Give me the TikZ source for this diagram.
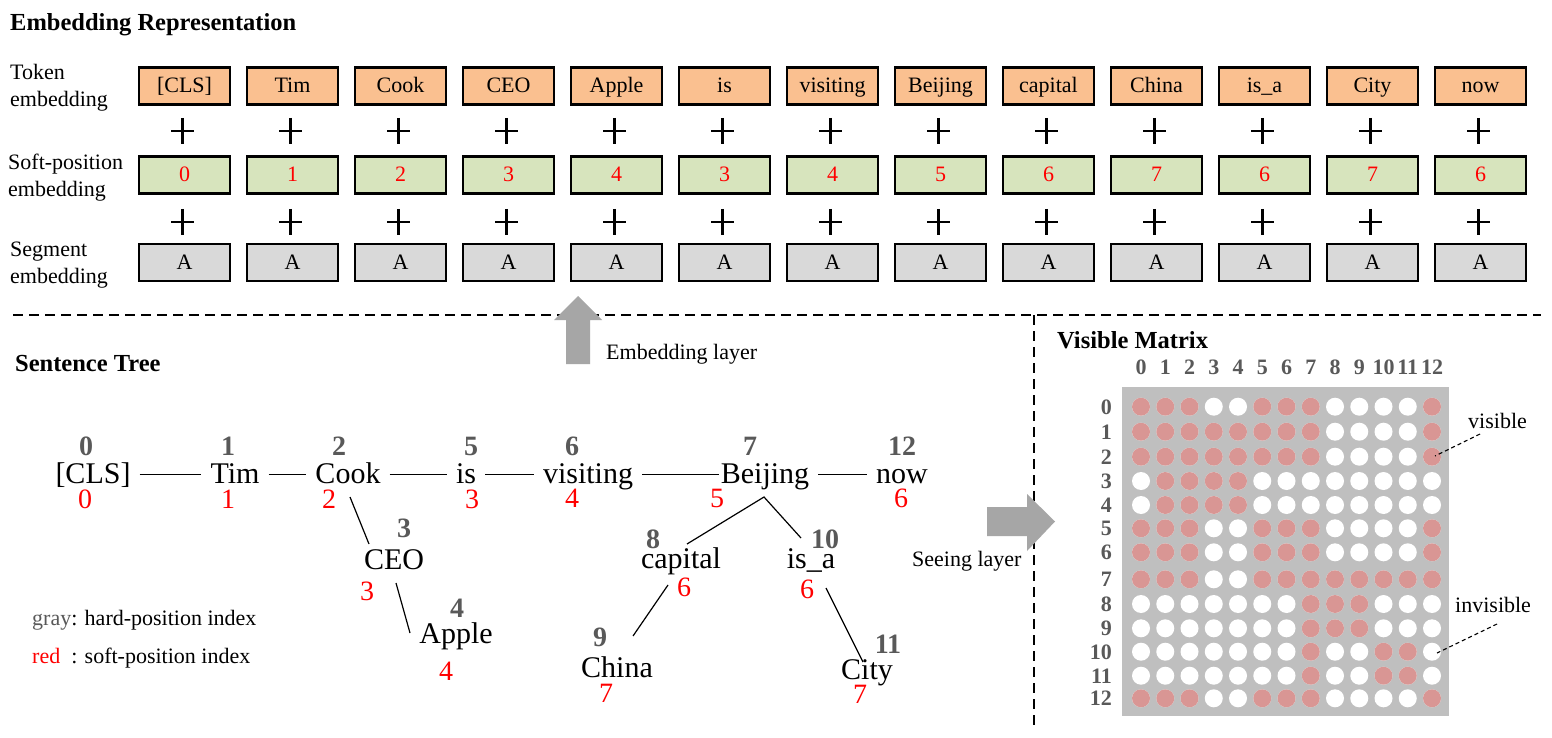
\documentclass[tikz,border=0pt]{standalone}
\usepackage{fontspec}
\setmainfont{Liberation Serif}
\usetikzlibrary{calc}
\definecolor{tokfill}{HTML}{FAC090}
\definecolor{posfill}{HTML}{D7E4BD}
\definecolor{segfill}{HTML}{D9D9D9}
\definecolor{numgray}{HTML}{595959}
\definecolor{arrgray}{HTML}{A6A6A6}
\definecolor{matgray}{HTML}{BFBFBF}
\definecolor{pinkdot}{HTML}{D99694}
\newcommand{\fszS}{\fontsize{22}{27}\selectfont}
\newcommand{\fszT}{\fontsize{24.5}{29}\selectfont\bfseries}
\newcommand{\fszW}{\fontsize{30}{36}\selectfont}
\newcommand{\fszN}{\fontsize{28}{34}\selectfont}
\newcommand{\fszM}{\fontsize{22}{27}\selectfont\bfseries}
\newcommand{\pinkrow}[2]{\foreach \c in {#2} \fill[pinkdot] ({1141+24.25*\c},#1) circle (9pt);}
\tikzset{
 ebox/.style={draw, line width=2.2pt, minimum width=91pt, minimum height=37pt, inner sep=0pt, font=\fszS, text height=18pt, text depth=4pt},
 tokbox/.style={ebox, fill=tokfill},
 posbox/.style={ebox, fill=posfill, text=red},
 segbox/.style={ebox, fill=segfill},
 plusline/.style={line width=2.8pt},
 word/.style={font=\fszW, anchor=base, inner xsep=9pt, inner ysep=0pt, text height=22pt, text depth=5pt},
 hnum/.style={font=\fszN\bfseries, text=numgray, anchor=base, inner sep=0pt},
 snum/.style={font=\fszN, text=red, anchor=base, inner sep=0pt},
 edge/.style={line width=1.2pt},
 title/.style={font=\fszT, anchor=base west, inner sep=0pt},
 lbl/.style={font=\fszS, inner sep=0pt},
 sep/.style={line width=2pt, dash pattern=on 10pt off 6pt},
 mlab/.style={font=\fszM, text=numgray, inner sep=0pt},
 leader/.style={line width=1.1pt, dash pattern=on 4pt off 3pt},
}
\begin{document}
\begin{tikzpicture}[x=1pt,y=-1pt]
\useasboundingbox (0,0) rectangle (1552,738);
\fill[white] (0,0) rectangle (1552,738);

% ---------- Embedding representation ----------
\node[title] (ttl1) at (10,31) {Embedding Representation};
\node[lbl, align=left, anchor=west] (lab1) at (10,88) {Token\\embedding};
\node[lbl, align=left, anchor=west] (lab2) at (8,178) {Soft-position\\embedding};
\node[lbl, align=left, anchor=west] (lab3) at (10,265) {Segment\\embedding};

\foreach \i/\tk/\sp in {0/{[CLS]}/0, 1/Tim/1, 2/Cook/2, 3/CEO/3, 4/Apple/4, 5/is/3, 6/visiting/4, 7/Beijing/5, 8/capital/6, 9/China/7, 10/is\_a/6, 11/City/7, 12/now/6} {
  \node[tokbox] (tok\i) at ({184.5+108*\i},86) {\tk};
  \node[posbox] (pos\i) at ({184.5+108*\i},175) {\sp};
  \node[segbox] (seg\i) at ({184.5+108*\i},262.5) {A};
  \draw[plusline] ({184.5+108*\i-13.5},131) -- ++(23,0);
  \draw[plusline] ({184.5+108*\i-2},118) -- ++(0,26);
  \draw[plusline] ({184.5+108*\i-13.5},222) -- ++(23,0);
  \draw[plusline] ({184.5+108*\i-2},209) -- ++(0,26);
}

% ---------- separators ----------
\draw[sep] (13,315) -- (1541,315);
\draw[sep] (1034,315) -- (1034,726);

% ---------- embedding layer arrow ----------
\fill[arrgray] (566,364) -- (566,320) -- (554,320) -- (578,296) -- (602,320) -- (590,320) -- (590,364) -- cycle;
\node[lbl, anchor=base west] (emblab) at (606,359) {Embedding layer};

% ---------- Sentence tree ----------
\node[title] (ttl2) at (15,371) {Sentence Tree};

\node[word] (t0) at (93,483) {[CLS]};
\node[word] (t1) at (235,483) {Tim};
\node[word] (t2) at (348,483) {Cook};
\node[word] (t5) at (466,483) {is};
\node[word] (t6) at (588,483) {visiting};
\node[word] (t7) at (765,483) {Beijing};
\node[word] (t12) at (902,483) {now};
\node[word] (t3) at (394,569) {CEO};
\node[word] (t4) at (456,643) {Apple};
\node[word] (t8) at (681,568) {capital};
\node[word] (t10) at (811,568) {is\_a};
\node[word] (t9) at (617,677) {China};
\node[word] (t11) at (867,679) {City};

\node[hnum] (g0) at (86,455) {0};
\node[hnum] (g1) at (228,455) {1};
\node[hnum] (g2) at (339,455) {2};
\node[hnum] (g5) at (471,455) {5};
\node[hnum] (g6) at (572,455) {6};
\node[hnum] (g7) at (750,455) {7};
\node[hnum] (g12) at (902,455) {12};
\node[hnum] (g3) at (404,537) {3};
\node[hnum] (g4) at (457,617) {4};
\node[hnum] (g8) at (653,548) {8};
\node[hnum] (g10) at (825,548) {10};
\node[hnum] (g9) at (600,646) {9};
\node[hnum] (g11) at (888,653) {11};

\node[snum] (r0) at (85,508) {0};
\node[snum] (r1) at (228,508) {1};
\node[snum] (r2) at (329,508) {2};
\node[snum] (r5) at (472,508) {3};
\node[snum] (r6) at (572,507) {4};
\node[snum] (r7) at (717,507) {5};
\node[snum] (r12) at (901,507) {6};
\node[snum] (r3) at (367,600) {3};
\node[snum] (r4) at (446,680) {4};
\node[snum] (r8) at (684,596) {6};
\node[snum] (r10) at (807,598) {6};
\node[snum] (r9) at (606,702) {7};
\node[snum] (r11) at (860,703) {7};

\draw[edge] (t0.east) -- (t1.west);
\draw[edge] (t1.east) -- (t2.west);
\draw[edge] (t2.east) -- (t5.west);
\draw[edge] (t5.east) -- (t6.west);
\draw[edge] (t6.east) -- ([xshift=7pt]t7.west);
\draw[edge] (t7.east) -- (t12.west);
\draw[edge] ($(t2.base)+(2,14)$) -- ($(t3.base)+(-25,-25)$);
\draw[edge] ($(t3.base)+(2,14)$) -- ($(t4.base)+(-46,-10)$);
\draw[edge] ($(t8.base)+(6,-24)$) -- ($(t7.base)+(-1,14)$) -- ($(t10.base)+(-10,-30)$);
\draw[edge] ($(t8.base)+(-13,17)$) -- ($(t9.base)+(16,-41)$);
\draw[edge] ($(t10.base)+(15,20)$) -- ($(t11.base)+(-4,-17)$);

\node[lbl, anchor=base west] (leg1) at (32,625) {\textcolor{numgray}{gray}: hard-position index};
\node[lbl, anchor=base west] (leg2) at (32,663) {\rlap{\textcolor{red}{red}}\phantom{gray}: soft-position index};

% ---------- seeing layer arrow ----------
\fill[arrgray] (987,507) -- (1027,507) -- (1027,494) -- (1055,521.5) -- (1027,551) -- (1027,536) -- (987,536) -- cycle;
\node[lbl, anchor=base west] (seelab) at (912,566) {Seeing layer};

% ---------- Visible matrix ----------
\node[title] (ttl3) at (1057,348) {Visible Matrix};
\fill[matgray] (1122,387) rectangle (1449,716);
\foreach \c in {0,...,12} \node[mlab, anchor=base] (ch\c) at ({1141+24.25*\c},374) {\c};
\foreach \r/\yy in {0/406.7,1/431.7,2/456.7,3/481,4/505,5/528.3,6/552.3,7/579.3,8/604,9/628.3,10/651.7,11/675.7,12/698.3} {
  \foreach \c in {0,...,12} \fill[white] ({1141+24.25*\c},\yy) circle (9pt);
  \node[mlab, anchor=base east] (rh\r) at (1112,\yy+7.5) {\r};
}
\pinkrow{406.7}{0,1,2,5,6,7,12}
\pinkrow{431.7}{0,1,2,3,4,5,6,7,12}
\pinkrow{456.7}{0,1,2,3,4,5,6,7,12}
\pinkrow{481}{1,2,3,4}
\pinkrow{505}{1,2,3,4}
\pinkrow{528.3}{0,1,2,5,6,7,12}
\pinkrow{552.3}{0,1,2,5,6,7,12}
\pinkrow{579.3}{0,1,2,5,6,7,8,9,10,11,12}
\pinkrow{604}{7,8,9}
\pinkrow{628.3}{7,8,9}
\pinkrow{651.7}{7,10,11}
\pinkrow{675.7}{7,10,11}
\pinkrow{698.3}{0,1,2,5,6,7,12}

\node[lbl, anchor=base west] (vis) at (1468,428) {visible};
\node[lbl, anchor=base west] (invis) at (1455,612) {invisible};
\coordinate (visdot) at (1435,456);
\coordinate (invisdot) at (1437,653);
\draw[leader] ($(vis.base west)+(12,6)$) -- (visdot);
\draw[leader] ($(invis.base west)+(42,12)$) -- (invisdot);
\end{tikzpicture}
\end{document}
